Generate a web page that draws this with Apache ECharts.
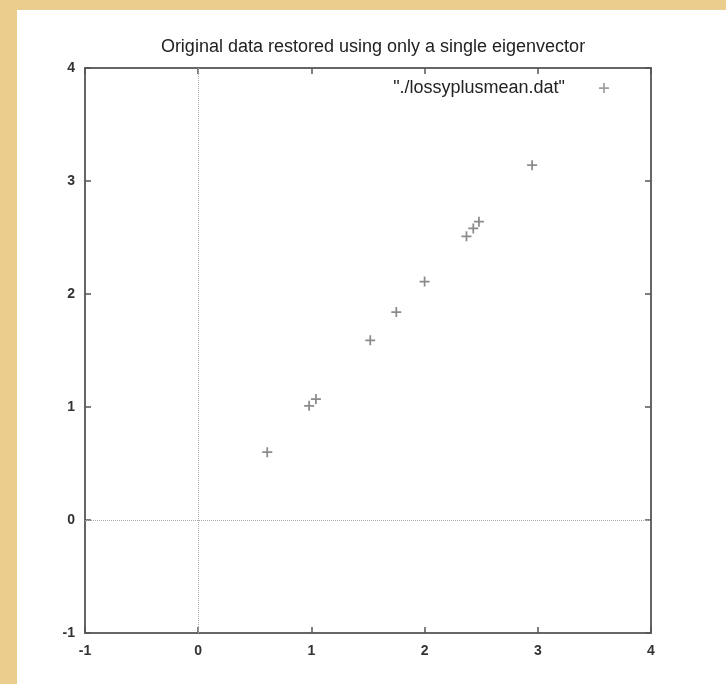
<!DOCTYPE html>
<html>
<head>
<meta charset="utf-8">
<script src="https://cdn.jsdelivr.net/npm/echarts@6/dist/echarts.min.js"></script>
<style>
html,body{margin:0;padding:0;background:#ebcd8e;}
#chart{width:726px;height:684px;}
</style>
</head>
<body>
<div id="chart"></div>
<script>
const titleText = 'Original data restored using only a single eigenvector';
const seriesName = '"./lossyplusmean.dat"';
const xValues = [0.61, 0.98, 1.04, 1.52, 1.75, 2.00, 2.37, 2.43, 2.48, 2.95];
const yValues = [0.60, 1.01, 1.07, 1.59, 1.84, 2.11, 2.51, 2.58, 2.64, 3.14];
const axisMin = -1, axisMax = 4, axisStep = 1;

const plusPath = 'path://M3.3,0h1.4v3.3h3.3v1.4h-3.3v3.3h-1.4v-3.3h-3.3v-1.4h3.3z';
const chart = echarts.init(document.getElementById('chart'), null, {renderer:'canvas'});
const pts = xValues.map((x,i)=>[x, yValues[i]]);
const tickStyle = {show:true, inside:true, length:6, lineStyle:{color:'#555', width:1.5}};
const labelStyle = {color:'#333', fontFamily:'Liberation Sans, Arial, sans-serif', fontSize:14, fontWeight:'bold'};
function axis(pos, showLabel, margin){
  return {
    type:'value', position:pos, min:axisMin, max:axisMax, interval:axisStep,
    axisLine:{show:true, onZero:false, lineStyle:{color:'#666', width:2}},
    axisTick:tickStyle,
    axisLabel:Object.assign({show:showLabel, margin:margin}, labelStyle),
    splitLine:{show:false}
  };
}
chart.setOption({
  backgroundColor:'#ebcd8e',
  animation:false,
  graphic:[{type:'rect', left:17, top:10, shape:{width:720, height:690}, style:{fill:'#ffffff'}, z:-10}],
  title:{text:titleText, left:368, top:33, textAlign:'center',
    textStyle:{color:'#222', fontFamily:'Liberation Sans, Arial, sans-serif', fontSize:18, fontWeight:'normal'}},
  legend:{right:112, top:74, align:'right', itemWidth:10, itemHeight:10,
    data:[{name:seriesName, icon:plusPath, itemStyle:{color:'#888'}}],
    textStyle:{color:'#222', fontFamily:'Liberation Sans, Arial, sans-serif', fontSize:18, padding:[0,29,0,0]}},
  grid:{left:85, right:75, top:68, bottom:51, show:false},
  xAxis:[axis('bottom', true, 11), axis('top', false, 8)],
  yAxis:[axis('left', true, 10), axis('right', false, 8)],
  series:[{
    name:seriesName, type:'scatter', data:pts, symbol:plusPath, symbolSize:10,
    itemStyle:{color:'#6e6e6e'},
    markLine:{silent:true, symbol:'none', label:{show:false},
      lineStyle:{color:'#aaa', type:'dotted', width:1},
      data:[{xAxis:0},{yAxis:0}]}
  }]
});
</script>
</body>
</html>
